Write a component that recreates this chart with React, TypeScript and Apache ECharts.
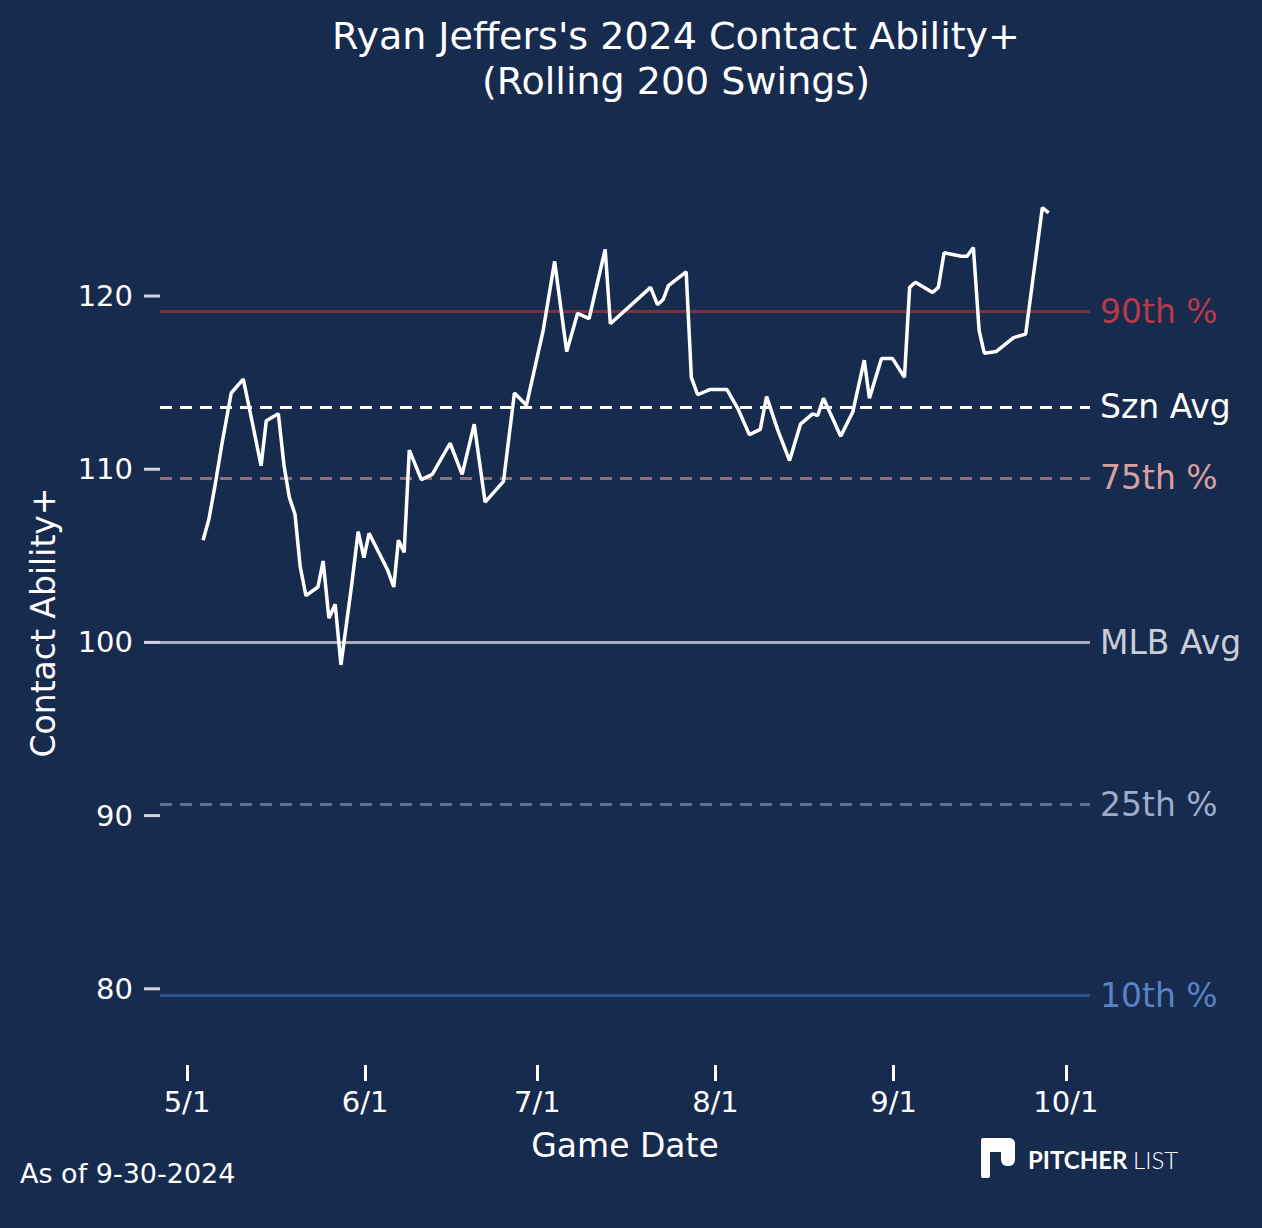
import React, { useEffect, useRef } from "react";
import * as echarts from "echarts";

const days = [2.8,3.8,4.9,6.1,7.7,9.8,11.3,12.9,13.8,15.9,16.9,17.8,18.8,19.7,20.7,22.8,23.7,24.7,25.8,26.8,28.7,29.8,30.8,31.7,34.9,36.0,36.8,37.8,38.7,40.8,42.7,45.8,47.9,50.0,51.9,55.1,57.0,59.1,62.0,64.0,66.1,68.0,70.0,72.8,73.7,80.7,81.9,82.9,83.8,86.9,87.8,88.9,91.0,94.0,95.9,97.9,99.8,100.9,102.8,104.9,106.8,108.9,109.8,110.8,113.8,115.9,117.9,118.8,120.9,122.8,124.9,125.8,126.8,129.8,130.8,131.8,134.8,135.8,136.9,137.9,138.8,140.9,143.9,146.0,148.9,150.0];
const values = [105.9,107.1,109.1,111.5,114.4,115.2,112.8,110.2,112.8,113.2,110.2,108.4,107.4,104.4,102.7,103.2,104.7,101.4,102.2,98.7,103.4,106.4,104.9,106.3,104.2,103.2,105.9,105.2,111.1,109.4,109.7,111.5,109.7,112.6,108.1,109.3,114.4,113.7,118.0,122.0,116.8,119.0,118.7,122.7,118.4,120.5,119.5,119.8,120.6,121.4,115.3,114.3,114.6,114.6,113.5,112.0,112.3,114.2,112.3,110.5,112.6,113.2,113.1,114.1,111.9,113.3,116.3,114.1,116.4,116.4,115.3,120.5,120.8,120.2,120.5,122.5,122.3,122.3,122.8,118.0,116.7,116.8,117.6,117.8,125.1,124.8];
const xTickDays = [0, 31, 61, 92, 123, 153];
const xTickLabels = ["5/1", "6/1", "7/1", "8/1", "9/1", "10/1"];
const yTicks = [80, 90, 100, 110, 120];
const refNames = ["90th %", "Szn Avg", "75th %", "MLB Avg", "25th %", "10th %"];
const refValues = [119.1, 113.6, 109.5, 100, 90.65, 79.6];
const refLineColors = ["#7d2f40", "#ffffff", "#8b7080", "#a8acb8", "#5a7094", "#2b5290"];
const refLabelColors = ["#b63a4a", "#ffffff", "#d9a0a0", "#c9cdd8", "#9caccc", "#5a82c4"];
const refDashed = [false, true, true, false, true, false];
const X_MIN = -4.7;
const X_MAX = 157.2;

export default function App() {
  const ref = useRef<HTMLDivElement>(null);
  useEffect(() => {
    document.body.style.margin = "0";
    document.body.style.background = "#172b4f";
    const chart = echarts.init(ref.current!, null, { renderer: "svg" });
    const font = "DejaVu Sans";
    const plotW = 1262 - 160 - 172;
    const tickX = X_MIN - (8 / plotW) * (X_MAX - X_MIN);
    chart.setOption({
      animation: false,
      backgroundColor: "#172b4f",
      textStyle: { fontFamily: font },
      title: {
        text: "Ryan Jeffers's 2024 Contact Ability+\n(Rolling 200 Swings)",
        left: 671, textAlign: "center", top: 8,
        textStyle: { color: "#fff", fontSize: 38, fontWeight: "normal", lineHeight: 45, fontFamily: font },
      },
      grid: { left: 160, right: 172, top: 180, bottom: 163 },
      xAxis: {
        type: "value", min: X_MIN, max: X_MAX,
        name: "Game Date", nameLocation: "middle", nameGap: 64,
        nameTextStyle: { color: "#fff", fontSize: 33, fontFamily: font },
        axisLine: { show: true, lineStyle: { opacity: 0 } },
        splitLine: { show: false },
        axisTick: { show: true, inside: false, customValues: xTickDays, length: 16, lineStyle: { color: "#fff", width: 3 } },
        axisLabel: {
          customValues: xTickDays, color: "#fff", fontSize: 29, margin: 22, fontFamily: font,
          formatter: (v: number) => xTickLabels[xTickDays.indexOf(Math.round(v))] ?? "",
        },
      },
      yAxis: {
        type: "value", min: 75.6, max: 126.7,
        name: "Contact Ability+", nameLocation: "middle", nameGap: 100,
        nameTextStyle: { color: "#fff", fontSize: 33, fontFamily: font },
        axisLine: { show: false },
        splitLine: { show: false },
        axisTick: { show: false },
        axisLabel: { customValues: yTicks, color: "#fff", fontSize: 29, margin: 27, fontFamily: font },
      },
      series: [
        {
          type: "line",
          data: days.map((d, i) => [d, values[i]]),
          showSymbol: false,
          lineStyle: { color: "#fff", width: 3.5 },
          z: 5,
          markLine: {
            silent: true, symbol: "none",
            data: refValues.map((v, i) => ({
              yAxis: v,
              lineStyle: { color: refLineColors[i], width: 3, type: refDashed[i] ? [12, 8] : "solid" },
              label: { show: true, position: "end", distance: 10, formatter: refNames[i], color: refLabelColors[i], fontSize: 33, fontFamily: font },
            })),
          },
        },
        {
          type: "scatter",
          data: yTicks.map((t) => [tickX, t]),
          symbol: "rect",
          symbolSize: [16, 3],
          itemStyle: { color: "#fff" },
          clip: false,
          silent: true,
        },
      ],
      graphic: [
        { type: "text", left: 20, top: 1160, style: { text: "As of 9-30-2024", fill: "#fff", fontSize: 27, fontFamily: font } },
        { type: "rect", shape: { x: 981, y: 1138, width: 9, height: 40, r: 2 }, style: { fill: "#fff" } },
        { type: "rect", shape: { x: 981, y: 1138, width: 34, height: 14, r: 6 }, style: { fill: "#fff" } },
        { type: "rect", shape: { x: 1001, y: 1138, width: 14, height: 28, r: 6 }, style: { fill: "#fff" } },
        { type: "rect", shape: { x: 990, y: 1152, width: 11, height: 10 }, style: { fill: "#172b4f" } },
        { type: "text", left: 1028, top: 1147, style: { text: "PITCHER", fill: "#fff", fontSize: 24, fontWeight: "bold", fontFamily: "Lato" } },
        { type: "text", left: 1133, top: 1147, style: { text: "LIST", fill: "#fff", fontSize: 24, fontWeight: 300, fontFamily: "Lato" } },
      ],
    });
    return () => chart.dispose();
  }, []);
  return <div ref={ref} style={{ width: 1262, height: 1228 }} />;
}
